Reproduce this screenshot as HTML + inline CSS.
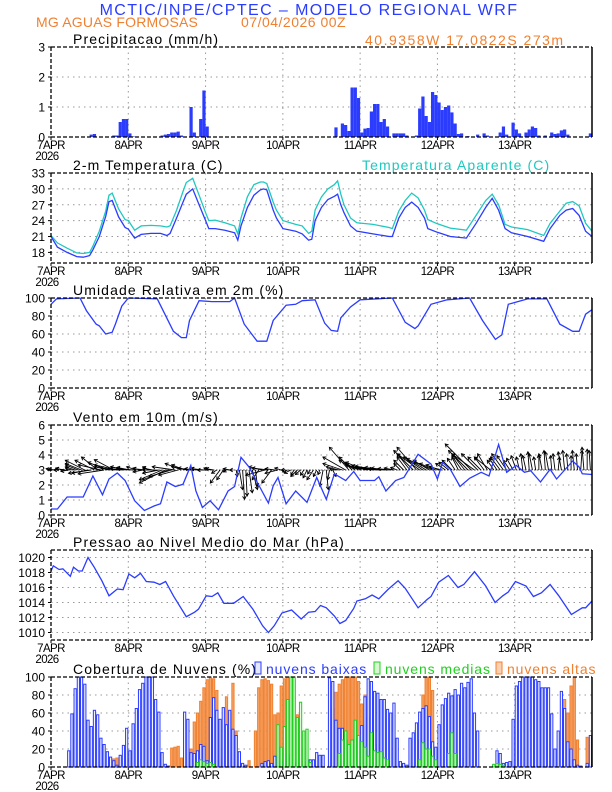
<!DOCTYPE html>
<html><head><meta charset="utf-8">
<style>
html,body{margin:0;padding:0;background:#fff;}
svg{display:block;font-family:"Liberation Sans",sans-serif;}
</style></head>
<body>
<svg id="chart" width="612" height="792" viewBox="0 0 612 792" xmlns="http://www.w3.org/2000/svg">
<text x="309" y="15" text-anchor="middle" font-size="16" fill="#2a3cff" letter-spacing="1.4">MCTIC/INPE/CPTEC – MODELO REGIONAL WRF</text>
<text x="36" y="27" font-size="14" fill="#f08030" letter-spacing="0.2">MG AGUAS FORMOSAS</text>
<text x="241" y="27" font-size="14" fill="#f08030" letter-spacing="0.5">07/04/2026 00Z</text>
<text x="365" y="45" font-size="14" fill="#f08030" letter-spacing="1.5">40.9358W 17.0822S 273m</text>
<g id="layer"></g>
</svg>
<script>
// ---------- data ----------
const dayLabels=["7APR","8APR","9APR","10APR","11APR","12APR","13APR"];
const precipHours=[12,13,19,20,21,22,23,24,25,34,35,36,37,38,39,40,43,44,46,47,48,88,90,91,92,93,94,95,96,97,98,99,100,101,102,103,104,106,107,108,109,110,113,114,115,116,117,118,119,120,121,122,123,124,125,126,127,129,132,134,135,139,140,141,143,144,145,147,148,149,150,151,153,155,156,157,158,159,160,167];
const precipValues=[0.08,0.1,0.05,0.05,0.5,0.6,0.6,0.12,0.02,0.05,0.08,0.1,0.15,0.15,0.18,0.05,1.0,0.15,0.6,1.55,0.35,0.32,0.45,0.4,0.2,1.65,1.65,1.3,0.15,0.28,0.3,0.85,1.1,1.1,0.5,0.6,0.35,0.12,0.12,0.12,0.12,0.05,0.05,0.95,1.35,0.7,0.5,1.5,1.4,1.15,0.9,1.0,1.05,0.82,0.45,0.1,0.12,0.03,0.08,0.12,0.05,0.15,0.35,0.08,0.48,0.25,0.12,0.15,0.25,0.35,0.3,0.05,0.05,0.15,0.1,0.12,0.22,0.25,0.08,0.12];

const tempHours=[0,2,5,8,10,12,13,15,17,18,19,21,23,24,26,28,31,34,36,37,39,41,42,44,46,48,49,51,54,57,58,59,61,63,65,66,67,69,70,72,76,78,80,81,82,84,86,88,89,90,91,93,95,100,105,106,108,110,112,114,116,117,120,124,129,132,135,137,139,141,143,148,153,155,158,160,162,164,166,168];
const tempValues=[21.0,19.0,18.0,17.2,17.1,17.4,18.5,21.0,24.8,27.6,27.8,24.7,22.7,22.4,20.7,21.4,21.6,21.6,21.2,21.6,24.5,27.5,29.0,30.0,27.0,24.0,22.5,22.5,22.2,21.7,20.3,23.0,26.5,28.8,29.8,30.0,29.8,26.0,24.5,22.5,22.0,21.5,20.3,20.5,24.0,26.5,28.0,28.6,29.0,27.0,25.5,23.0,22.0,21.5,21.0,21.0,24.5,26.5,27.5,26.5,24.5,22.5,21.8,21.0,20.7,23.5,26.5,28.2,26.0,22.5,21.7,21.0,20.1,22.5,25.0,26.0,26.3,25.0,22.0,21.0];
const appTempValues=[21.2,19.8,18.8,17.9,17.8,18.0,19.2,22.0,25.8,28.8,29.2,26.2,24.2,24.0,22.2,23.0,23.1,23.0,22.8,23.0,26.0,29.5,31.2,32.0,28.8,25.5,24.0,24.1,23.6,23.0,21.5,24.5,28.5,30.8,31.3,31.3,31.0,27.5,26.0,24.0,23.3,23.0,21.6,22.0,26.0,28.5,30.0,30.8,31.5,29.0,27.0,24.5,23.6,23.3,22.7,22.5,25.8,27.8,29.2,28.3,26.0,24.2,23.4,22.6,22.2,25.0,27.8,29.0,27.0,23.3,22.8,22.3,21.2,23.5,25.8,27.3,27.6,26.8,23.5,22.0];

const humHours=[0,1.7,9,11,14,15,17,19,20,22,24,33,38,40.5,42,43,46,50,55.5,57,60,64,67,69,73,76,78,82,85,87,89,90,93,96,106,110,113,114,118,123,130,134,138,140,142,144,148,154,158,162,164,166,168];
const humValues=[93,99,100,86,71,69,60,62,71,91,100,99,63,56,56,75,97,96,96,100,71,52,52,75,92,93,97,98,72,64,63,78,90,98,100,73,66,69,93,98,100,75,54,59,93,95,99,99,71,63,63,82,87];

const windHours=[0,2,5,10,13,16,18,20.6,23,26,29,32,34,36,38.6,41,43.4,45,47,49.4,52,55,57,59,61.5,64,67.5,69,70.5,73,76,79.5,82.5,85.5,88,91.5,94,96,100.5,101.8,104,107,109.6,114,118,120,121.6,124,127,130,133.6,136,139,141.5,144.5,147,149,152,155,157,162,164,165,168];
const windSpeed=[0.4,0.4,1.2,1.2,2.6,1.35,2.4,2.8,2.3,0.95,0.3,0.6,0.75,2.2,1.9,2.05,3.3,1.6,0.5,0.95,0.35,1.6,1.9,3.85,3.2,2.2,0.8,1.95,2.5,0.75,1.6,0.85,2.5,1.05,2.75,2.3,2.9,2.3,2.3,2.55,1.6,2.3,2.5,4.05,3.4,2.4,3.5,3.05,1.9,2.45,2.85,2.6,4.7,2.85,3.3,2.85,2.95,2.2,3.05,2.4,3.6,3.2,2.75,2.7];
const windU=[-1,-1.2,-0.8,-1,-1.5,-1.2,-1,-1.5,-2,-2.5,-3,-2.5,
-3.5,-3,-2.5,-3.5,-4,-3,-2.5,-3,-3.5,-3,-2,-2.5,
-2,-2.5,-1.5,-1,-1.5,-2,-1,-1.5,-2,-2.5,-3.5,-4,
-4,-3.5,-3.5,-3,-2.5,-2,-2.5,-2,-1.5,-1,-1.5,-2,
-1.5,-1,-1.2,-0.8,-1.5,-1,-0.5,-1,-0.5,0.2,0.5,0.3,
0.2,0.5,0.8,0.3,-1,-2,-3,-2.5,-1.5,-1.5,-2,-1,
-0.5,-0.8,-1,-0.5,-1,-0.8,-0.5,-0.6,-0.4,-1,-0.5,-0.3,
-0.5,0.3,-0.3,0.5,-1,-2,-3,-3.5,-3,-2,-2.5,-2,
-2.5,-3,-2.5,-3,-2.5,-3.5,-2,-3,-2.5,-2,-1.5,-1,
-1,-1.5,-1.5,-2,-3,-3,-3.5,-3,-3,-2.5,-3,-2.5,
-2,-2,-1.5,-1.5,-1.5,-1.2,-1,-1.5,-2,-3,-4,-3.5,
-2.5,-2,-1.5,-1.5,-2.5,-1,-1.2,-1.5,-1.8,-1.5,-1,-1,
-0.8,-0.5,-0.3,-0.5,-0.2,-0.5,-0.3,0,-0.5,-0.2,-0.5,-0.2,
-0.3,0.2,-0.5,-0.3,-0.2,0,-0.3,-0.2,0.2,-0.3,0,-0.2];
const windV=[0.2,0.1,0,0.3,0.2,-0.2,0.3,0.5,0.8,1,1.5,-0.5,
-0.5,1.5,2,0.8,-0.6,1.2,0.5,1.6,0.8,0.3,0.2,0.5,
0.4,0.2,0.5,0.3,-0.3,0.2,0.5,0.3,0,-0.5,-1.5,-2,
-1.5,-1,0.5,-0.8,1,0.8,0.5,0.3,0.2,0.3,0.2,0.2,
0,0.3,0.2,-0.5,-2,-1.5,-0.3,0.2,0,-1,-3,-4.5,
-4,-3.5,-3,-2.5,-1.5,0.5,-0.8,0.3,-2,0.2,-0.5,0.3,
0,-0.3,-0.5,-0.8,-1,-0.7,-0.8,-1.2,-0.6,-1.5,-1,-0.7,
-2.5,-3,-1.5,-1,0.2,0.5,1,2,3.5,2,1.5,1,
0.8,1.2,0.5,0.7,0.3,0.6,0.2,0.4,0.3,0.2,0.3,0.4,
1,1.5,2,2.5,3,3.5,2.5,2,1.8,1.5,1.3,1,
0.8,0.5,1,1.2,1.5,1.8,2,2.2,2.5,3,4,2.5,
2.5,2,2,2.5,2,1.5,1.8,2,2.5,2.2,1.5,1.8,
2.2,2,2.5,2.2,2.8,2.5,2,2.3,2.5,3,2.8,2.2,
2.5,2,2.8,3,2.5,2.2,3,2.5,3,3.5,3.2,3];

const presHours=[0,0.7,2.5,3.7,6,7,8.5,9.7,11.5,13.4,15.8,18,20.6,22.4,24.2,26,27.8,29.6,32,33.8,35.6,38,42,44.6,45.8,48.2,50,51.8,53.7,56.7,59.7,62.7,65.7,67.5,69.3,71.7,74.7,77.7,80,82,83.7,85.5,88,89.7,91.5,94,95,97.6,99.7,101.8,104.8,107.8,110,114,116.8,118,120.4,123.4,126.4,128.2,131.5,135,137.9,140.3,142,144.2,147.5,149.8,152.3,155,157.7,161.6,165,166,168];
const presValues=[1018.2,1018.9,1018.4,1018.5,1017.5,1018.7,1018.2,1018.2,1020,1018.7,1016.9,1014.9,1015.8,1015.7,1017.8,1017.3,1017.9,1016.8,1016.7,1016.4,1016.8,1014.9,1012.1,1012.7,1013.1,1014.9,1014.8,1015.3,1013.9,1013.9,1014.8,1013.1,1010.9,1010,1010.9,1012.6,1013,1011.8,1012.7,1012.8,1013.6,1013.3,1012.2,1011.2,1011.6,1013.2,1014.2,1014.5,1015,1014.5,1015.8,1016.9,1015.9,1013.3,1014.4,1014.8,1016.7,1017.6,1016,1016.4,1018.1,1016.2,1014,1014.9,1015.4,1016.8,1016.2,1014.8,1015.3,1016.4,1014.9,1012.4,1013.3,1013.3,1014.2];

const lowHours=[5,6,7,8,9,10,11,12,13,14,15,16,17,18,19,20,21,22,23,24,25,26,27,28,29,30,31,32,33,34,35,36,41,42,43,44,45,46,47,48,49,50,51,52,53,54,55,56,57,58,59,60,65,66,67,68,69,70,71,72,73,74,75,76,77,78,79,80,81,82,83,84,86,87,88,89,90,91,92,93,94,95,96,97,98,99,100,101,102,103,104,105,106,107,108,109,110,111,112,113,114,115,116,117,118,119,120,121,122,123,124,125,126,127,128,129,130,131,132,137,138,139,140,141,142,143,144,145,146,147,148,149,150,151,152,153,154,155,156,157,158,159,160,161,162,163,164,166,167];
const lowValues=[18,59,87,100,100,92,52,45,63,58,32,25,17,11,7,2,13,24,43,18,48,65,86,93,100,100,100,75,61,16,3,1,61,53,16,15,18,25,23,7,55,77,63,53,66,47,63,42,35,17,4,2,4,6,7,4,12,11,6,8,14,11,3,5,3,2,5,8,8,16,13,13,99,95,52,43,43,30,17,30,31,31,46,78,98,95,84,82,75,75,64,60,71,32,6,4,2,32,38,49,61,65,68,56,28,22,47,69,76,82,79,86,80,93,88,94,98,60,40,2,18,15,4,5,6,53,90,95,100,100,100,100,97,95,88,88,88,59,20,40,84,65,28,20,8,2,1,4,35];
const midHours=[45,46,47,48,49,50,70,71,72,73,74,75,76,77,78,79,80,89,90,91,92,93,94,95,96,97,98,99,100,101,102,103,104,114,115,116,117,118,119,123,124,125,137,138,139,140];
const midValues=[5,8,6,4,5,3,47,22,45,75,100,100,55,72,40,42,5,15,30,40,25,30,52,35,28,22,12,38,18,16,17,10,8,8,27,20,20,12,8,15,38,15,3,4,3,2];
const highHours=[19,20,23,37,38,39,40,43,44,45,46,47,48,49,50,51,52,53,54,55,56,57,58,61,63,64,65,66,67,68,69,70,71,72,73,74,75,76,77,78,86,87,88,89,90,91,92,93,94,95,96,97,98,99,100,101,102,103,113,114,115,116,117,118,119,120,122,126,127,158,159,160,161,162,163,166];
const highValues=[9,10,10,21,22,23,10,20,50,60,73,88,97,100,98,85,10,7,78,60,93,40,5,7,40,88,97,98,96,92,58,60,90,98,100,100,97,58,20,6,55,65,83,92,97,100,100,100,100,95,70,80,55,37,20,25,20,10,5,30,80,100,100,85,20,20,5,40,10,30,75,60,90,100,30,33];

// ---------- drawing ----------
const NS="http://www.w3.org/2000/svg";
const layer=document.getElementById('layer');
const X0=51,X1=592,HOURS=168;
function xs(h){return X0+h*(X1-X0)/HOURS;}
function mk(tag,attrs,parent){const e=document.createElementNS(NS,tag);for(const k in attrs)e.setAttribute(k,attrs[k]);(parent||layer).appendChild(e);return e;}

const panels={
 precip:{top:47,bot:137,min:0,max:3,ticks:[0,1,2,3],title:"Precipitacao (mm/h)"},
 temp:{top:173,bot:263,min:16,max:33,ticks:[18,21,24,27,30,33],title:"2-m Temperatura (C)"},
 hum:{top:298,bot:388,min:0,max:100,ticks:[0,20,40,60,80,100],title:"Umidade Relativa em 2m (%)"},
 wind:{top:425,bot:515,min:0,max:6,ticks:[0,1,2,3,4,5,6],title:"Vento em 10m (m/s)"},
 pres:{top:550,bot:640,min:1009,max:1021,ticks:[1010,1012,1014,1016,1018,1020],title:"Pressao ao Nivel Medio do Mar (hPa)"},
 cloud:{top:677,bot:767,min:0,max:100,ticks:[0,20,40,60,80,100],title:"Cobertura de Nuvens (%)"}
};
function ys(p,v){return p.bot-(v-p.min)/(p.max-p.min)*(p.bot-p.top);}

function drawFrame(key){
  const p=panels[key];
  const g=mk('g',{});
  
  
  p.g=g;
  p.ticks.forEach(t=>{
    if(t===p.min||t===p.max)return;
    const gl=mk('line',{x1:X0,x2:X1,y1:ys(p,t),y2:ys(p,t),stroke:'#999','stroke-width':1,'stroke-dasharray':'1.5,4'},g);
    
    
  });
  for(let d=1;d<7;d++){
    const vl=mk('line',{x1:xs(d*24),x2:xs(d*24),y1:p.top,y2:p.bot,stroke:'#999','stroke-width':1,'stroke-dasharray':'1.5,4'},g);
    
    
  }
  p.ticks.forEach(t=>{
    const tx=mk('text',{x:X0-6,y:ys(p,t)+4.5,'text-anchor':'end','font-size':12,fill:'#000'},g);
    tx.textContent=t;
    
    
    mk('line',{x1:X0-3,x2:X0,y1:ys(p,t),y2:ys(p,t),stroke:'#000'},g);
  });
  dayLabels.forEach((lab,i)=>{
    const tx=mk('text',{x:xs(i*24),y:p.bot+12,'text-anchor':'middle','font-size':11.5,fill:'#000','letter-spacing':'-0.6'},g);
    tx.textContent=lab;
    
    
    mk('line',{x1:xs(i*24),x2:xs(i*24),y1:p.bot,y2:p.bot+3,stroke:'#000'},g);
  });
  const yr=mk('text',{x:X0-4,y:p.bot+23,'text-anchor':'middle','font-size':11.5,fill:'#000','letter-spacing':'-0.6'},g);
  yr.textContent="2026";
  
  
  const ti=mk('text',{x:73,y:p.top-3,'font-size':14,fill:'#000','letter-spacing':'1.1'},g);
  ti.textContent=p.title;
  
  
}
function drawBorder(key){
  const p=panels[key];
  mk('line',{x1:X0,x2:X1,y1:p.top,y2:p.top,stroke:'#000','stroke-width':1.3,'stroke-dasharray':'4,2'},p.g);
  mk('line',{x1:X0,x2:X0,y1:p.top,y2:p.bot,stroke:'#000','stroke-width':1.3,'stroke-dasharray':'4,2'},p.g);
  mk('line',{x1:X0,x2:X1,y1:p.bot,y2:p.bot,stroke:'#000','stroke-width':1.3,'stroke-dasharray':'4,2'},p.g);
  mk('line',{x1:X1,x2:X1,y1:p.top,y2:p.bot,stroke:'#000','stroke-width':1.5},p.g);
}
function linePath(p,hours,vals){
  return hours.map((h,i)=>(i?'L':'M')+xs(h).toFixed(1)+','+ys(p,vals[i]).toFixed(1)).join(' ');
}
Object.keys(panels).forEach(drawFrame);

(function(){
  const p=panels.precip;const w=(X1-X0)/HOURS;
  precipHours.forEach((h,i)=>{
    const y=ys(p,precipValues[i]);
    const r=mk('rect',{x:xs(h),y:y,width:w,height:p.bot-y,fill:'#2b3cff'},p.g);
    
    
  });
})();
(function(){
  const p=panels.temp;
  const a=mk('path',{d:linePath(p,tempHours,appTempValues),fill:'none',stroke:'#1fc8c0','stroke-width':1.3},p.g);
  
  
  const t=mk('path',{d:linePath(p,tempHours,tempValues),fill:'none',stroke:'#2b3cff','stroke-width':1.3},p.g);
  
  
  const lg=mk('text',{x:362,y:p.top-3,'font-size':14,fill:'#1fc8c0','letter-spacing':'1.1'},p.g);
  lg.textContent="Temperatura Aparente (C)";
  
  
})();
(function(){
  const p=panels.hum;
  const l=mk('path',{d:linePath(p,humHours,humValues),fill:'none',stroke:'#2b3cff','stroke-width':1.3},p.g);
  
  
})();
(function(){
  const p=panels.wind;const k=6.5;const yb=ys(p,3);
  mk('line',{x1:X0,x2:X1,y1:yb,y2:yb,stroke:'#555','stroke-width':1,'stroke-dasharray':'1.5,1.5'},p.g);
  windU.forEach((u,h)=>{
    const x0=xs(h+0.5),x1=x0+u*k,y1=yb-windV[h]*k;
    const ga=mk('g',{stroke:'#000','stroke-width':0.9,fill:'none'},p.g);
    
    
    mk('line',{x1:x0,y1:yb,x2:x1,y2:y1},ga);
    const ang=Math.atan2(y1-yb,x1-x0),L=3.5;
    mk('path',{d:`M${x1+L*Math.cos(ang+2.6)},${y1+L*Math.sin(ang+2.6)} L${x1},${y1} L${x1+L*Math.cos(ang-2.6)},${y1+L*Math.sin(ang-2.6)}`},ga);
  });
  const l=mk('path',{d:linePath(p,windHours,windSpeed),fill:'none',stroke:'#2b3cff','stroke-width':1.3},p.g);
  
  
})();
(function(){
  const p=panels.pres;
  const l=mk('path',{d:linePath(p,presHours,presValues),fill:'none',stroke:'#2b3cff','stroke-width':1.3},p.g);
  
  
})();
(function(){
  const p=panels.cloud;const w=(X1-X0)/HOURS;
  function bars(hours,vals,fill,stroke,name){
    hours.forEach((h,i)=>{
      const y=ys(p,vals[i]);
      const r=mk('rect',{x:xs(h)+0.5,y:y,width:w-1,height:p.bot-y,fill:fill,stroke:stroke,'stroke-width':1},p.g);
      
      
    });
  }
  bars(highHours,highValues,'#f5a468','#f08030','high-cloud-bar');
  bars(lowHours,lowValues,'#f4f6ff','#2b3cff','low-cloud-bar');
  bars(midHours,midValues,'#e6fbe2','#20d020','medium-cloud-bar');
  const items=[["nuvens baixas","#2b3cff","#e4e8ff",255],["nuvens medias","#20d020","#d8f8d0",374],["nuvens altas","#f08030","#fbd0b0",496]];
  items.forEach(it=>{
    const r=mk('rect',{x:it[3],y:p.top-15,width:6,height:12,fill:it[2],stroke:it[1],'stroke-width':1},p.g);
    
    
    const t=mk('text',{x:it[3]+11,y:p.top-3,'font-size':14,fill:it[1],'letter-spacing':'0.9'},p.g);
    t.textContent=it[0];
    
    
  });
})();
Object.keys(panels).forEach(drawBorder);
</script>
</body></html>
